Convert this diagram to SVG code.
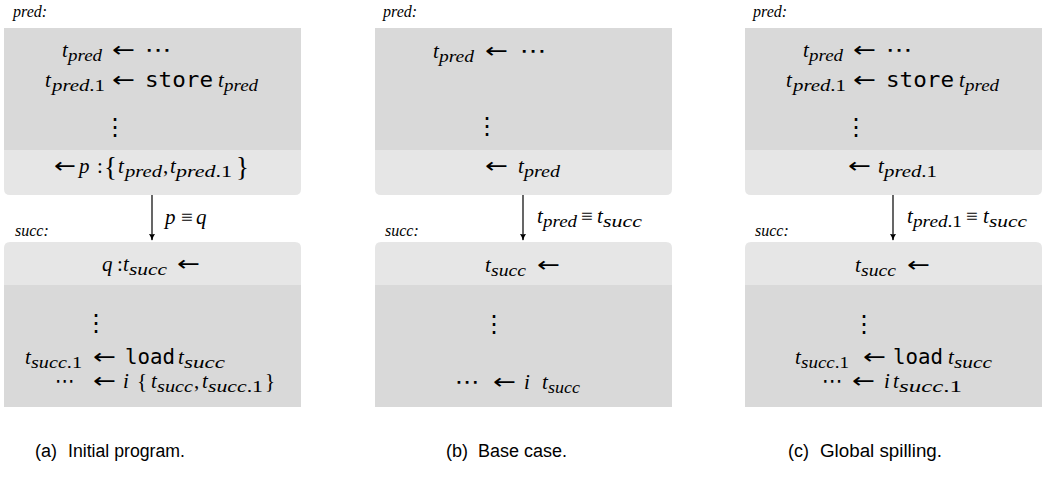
<svg xmlns="http://www.w3.org/2000/svg" width="1046" height="483" viewBox="0 0 1046 483">
<style>
.dk{fill:#d9d9d9}
.lt{fill:#e6e6e6}
.m{font-family:"Liberation Serif",serif;font-style:italic;font-size:21px;fill:#000}
.s{font-family:"Liberation Serif",serif;font-style:italic;font-size:16px}
.up{font-style:normal}
.n{font-family:"Liberation Serif","DejaVu Serif",serif;font-size:21px;fill:#000}
.ar{font-family:"DejaVu Sans",sans-serif;font-size:21px;fill:#000}
.br{font-family:"Liberation Serif",serif;font-size:27px;fill:#000}
.tt{font-family:"DejaVu Sans Mono",monospace;font-size:21px;fill:#000}
.lbl{font-family:"Liberation Serif",serif;font-style:italic;font-size:16px;fill:#000}
.cap{font-family:"Liberation Sans",sans-serif;font-size:18px;fill:#000}
.dots{font-family:"DejaVu Sans",sans-serif;font-size:21px;fill:#000}
.vd{font-family:"DejaVu Sans",sans-serif;font-size:24px;fill:#000;text-anchor:middle}
.edge{stroke:#000;stroke-width:1.2;fill:none}
</style>
<defs>
<marker id="ah" viewBox="0 0 10 10" refX="9" refY="5" markerWidth="7" markerHeight="7" markerUnits="userSpaceOnUse" orient="auto">
<path d="M0,0.5 Q5,4 10,5 Q5,6 0,9.5 Q2,5 0,0.5 Z" fill="#000"/>
</marker>
</defs>

<!-- ============ Panel A ============ -->
<g id="a-pred">
<text class="lbl" x="13" y="17">pred:</text>
<rect class="dk" x="4" y="28" width="297" height="122"/>
<path class="lt" d="M4,150 H301 V189 Q301,195 295,195 H10 Q4,195 4,189 Z"/>
<text class="m" x="62" y="57">t<tspan class="s" x="68" dy="4" textLength="34" lengthAdjust="spacingAndGlyphs">pred</tspan></text>
<text class="ar" x="112" y="57" textLength="23" lengthAdjust="spacingAndGlyphs">←</text>
<text class="dots" x="145" y="57" textLength="27" lengthAdjust="spacingAndGlyphs">⋯</text>
<text class="m" x="45" y="87">t<tspan class="s" x="52" dy="4" textLength="53" lengthAdjust="spacingAndGlyphs">pred<tspan class="up">.1</tspan></tspan></text>
<text class="ar" x="112" y="87" textLength="23" lengthAdjust="spacingAndGlyphs">←</text>
<text class="tt" x="145" y="87" textLength="68" lengthAdjust="spacingAndGlyphs">store</text>
<text class="m" x="218" y="87">t<tspan class="s" x="224" dy="4" textLength="34" lengthAdjust="spacingAndGlyphs">pred</tspan></text>
<text class="vd" x="115" y="135">⋮</text>
<text class="ar" x="54" y="173" textLength="22" lengthAdjust="spacingAndGlyphs">←</text>
<text class="m" x="79" y="173">p</text>
<text class="n" x="97" y="173">:</text>
<text class="br" x="104" y="176">{</text>
<text class="m" x="118" y="173">t<tspan class="s" x="125" dy="4" textLength="37" lengthAdjust="spacingAndGlyphs">pred</tspan></text>
<text class="n" x="163" y="173">,</text>
<text class="m" x="170" y="173">t<tspan class="s" x="176" dy="4" textLength="56" lengthAdjust="spacingAndGlyphs">pred<tspan class="up">.1</tspan></tspan></text>
<text class="br" x="236" y="176">}</text>
</g>

<g id="a-succ">
<text class="lbl" x="15" y="236">succ:</text>
<path class="lt" d="M4,285 V248 Q4,242 10,242 H295 Q301,242 301,248 V285 Z"/>
<rect class="dk" x="4" y="285" width="297" height="122"/>
<text class="m" x="102" y="271">q</text>
<text class="n" x="117" y="271">:</text>
<text class="m" x="123" y="271">t<tspan class="s" x="129" dy="4" textLength="38" lengthAdjust="spacingAndGlyphs">succ</tspan></text>
<text class="ar" x="177" y="271" textLength="23" lengthAdjust="spacingAndGlyphs">←</text>
<text class="vd" x="96" y="331">⋮</text>
<text class="m" x="25" y="364">t<tspan class="s" x="31" dy="3.5" textLength="51" lengthAdjust="spacingAndGlyphs">succ<tspan class="up">.1</tspan></tspan></text>
<text class="ar" x="93" y="364" textLength="23" lengthAdjust="spacingAndGlyphs">←</text>
<text class="tt" x="125" y="364" textLength="50" lengthAdjust="spacingAndGlyphs">load</text>
<text class="m" x="178" y="364">t<tspan class="s" x="184" dy="3.5" textLength="41" lengthAdjust="spacingAndGlyphs">succ</tspan></text>
<text class="dots" x="55" y="388" textLength="20" lengthAdjust="spacingAndGlyphs">⋯</text>
<text class="ar" x="93" y="388" textLength="23" lengthAdjust="spacingAndGlyphs">←</text>
<text class="m" x="123" y="388">i</text>
<text class="n" x="137" y="388">{</text>
<text class="m" x="151" y="388">t<tspan class="s" x="157" dy="4" textLength="36" lengthAdjust="spacingAndGlyphs">succ</tspan></text>
<text class="n" x="194" y="388">,</text>
<text class="m" x="202" y="388">t<tspan class="s" x="208" dy="4" textLength="55" lengthAdjust="spacingAndGlyphs">succ<tspan class="up">.1</tspan></tspan></text>
<text class="n" x="265" y="388">}</text>
</g>

<!-- ============ Panel B ============ -->
<g id="b-pred">
<text class="lbl" x="383" y="17">pred:</text>
<rect class="dk" x="375" y="28" width="297" height="122"/>
<path class="lt" d="M375,150 H672 V189 Q672,195 666,195 H381 Q375,195 375,189 Z"/>
<text class="m" x="433" y="58">t<tspan class="s" x="439" dy="4" textLength="35" lengthAdjust="spacingAndGlyphs">pred</tspan></text>
<text class="ar" x="485" y="58" textLength="23" lengthAdjust="spacingAndGlyphs">←</text>
<text class="dots" x="520" y="58" textLength="27" lengthAdjust="spacingAndGlyphs">⋯</text>
<text class="vd" x="487" y="134">⋮</text>
<text class="ar" x="485" y="173" textLength="23" lengthAdjust="spacingAndGlyphs">←</text>
<text class="m" x="518" y="173">t<tspan class="s" x="524" dy="4" textLength="36" lengthAdjust="spacingAndGlyphs">pred</tspan></text>
</g>

<g id="b-succ">
<text class="lbl" x="385" y="236">succ:</text>
<path class="lt" d="M375,285 V248 Q375,242 381,242 H666 Q672,242 672,248 V285 Z"/>
<rect class="dk" x="375" y="285" width="297" height="122"/>
<text class="m" x="485" y="272">t<tspan class="s" x="491" dy="4" textLength="35" lengthAdjust="spacingAndGlyphs">succ</tspan></text>
<text class="ar" x="537" y="272" textLength="23" lengthAdjust="spacingAndGlyphs">←</text>
<text class="vd" x="494" y="332">⋮</text>
<text class="dots" x="455" y="389" textLength="25" lengthAdjust="spacingAndGlyphs">⋯</text>
<text class="ar" x="493" y="389" textLength="23" lengthAdjust="spacingAndGlyphs">←</text>
<text class="m" x="524" y="389">i</text>
<text class="m" x="542" y="389">t<tspan class="s" x="548" dy="4" textLength="32" lengthAdjust="spacingAndGlyphs">succ</tspan></text>
</g>

<!-- ============ Panel C ============ -->
<g id="c-pred">
<text class="lbl" x="753" y="17">pred:</text>
<rect class="dk" x="745" y="28" width="297" height="122"/>
<path class="lt" d="M745,150 H1042 V189 Q1042,195 1036,195 H751 Q745,195 745,189 Z"/>
<text class="m" x="803" y="57">t<tspan class="s" x="809" dy="4" textLength="34" lengthAdjust="spacingAndGlyphs">pred</tspan></text>
<text class="ar" x="853" y="57" textLength="23" lengthAdjust="spacingAndGlyphs">←</text>
<text class="dots" x="886" y="57" textLength="27" lengthAdjust="spacingAndGlyphs">⋯</text>
<text class="m" x="786" y="87">t<tspan class="s" x="793" dy="4" textLength="53" lengthAdjust="spacingAndGlyphs">pred<tspan class="up">.1</tspan></tspan></text>
<text class="ar" x="853" y="87" textLength="23" lengthAdjust="spacingAndGlyphs">←</text>
<text class="tt" x="886" y="87" textLength="68" lengthAdjust="spacingAndGlyphs">store</text>
<text class="m" x="959" y="87">t<tspan class="s" x="965" dy="4" textLength="34" lengthAdjust="spacingAndGlyphs">pred</tspan></text>
<text class="vd" x="856" y="135">⋮</text>
<text class="ar" x="848" y="173" textLength="23" lengthAdjust="spacingAndGlyphs">←</text>
<text class="m" x="878" y="173">t<tspan class="s" x="884" dy="4" textLength="53" lengthAdjust="spacingAndGlyphs">pred<tspan class="up">.1</tspan></tspan></text>
</g>

<g id="c-succ">
<text class="lbl" x="755" y="236">succ:</text>
<path class="lt" d="M745,285 V248 Q745,242 751,242 H1036 Q1042,242 1042,248 V285 Z"/>
<rect class="dk" x="745" y="285" width="297" height="122"/>
<text class="m" x="855" y="272">t<tspan class="s" x="861" dy="4" textLength="35" lengthAdjust="spacingAndGlyphs">succ</tspan></text>
<text class="ar" x="907" y="272" textLength="23" lengthAdjust="spacingAndGlyphs">←</text>
<text class="vd" x="864" y="332">⋮</text>
<text class="m" x="795" y="364">t<tspan class="s" x="801" dy="3.5" textLength="48" lengthAdjust="spacingAndGlyphs">succ<tspan class="up">.1</tspan></tspan></text>
<text class="ar" x="863" y="364" textLength="23" lengthAdjust="spacingAndGlyphs">←</text>
<text class="tt" x="893" y="364" textLength="50" lengthAdjust="spacingAndGlyphs">load</text>
<text class="m" x="948" y="364">t<tspan class="s" x="954" dy="3.5" textLength="38" lengthAdjust="spacingAndGlyphs">succ</tspan></text>
<text class="dots" x="822" y="388" textLength="21" lengthAdjust="spacingAndGlyphs">⋯</text>
<text class="ar" x="852" y="388" textLength="23" lengthAdjust="spacingAndGlyphs">←</text>
<text class="m" x="884" y="388">i</text>
<text class="m" x="893" y="388">t<tspan class="s" x="899" dy="4" textLength="63" lengthAdjust="spacingAndGlyphs">succ<tspan class="up">.1</tspan></tspan></text>
</g>

<!-- ============ Connectors ============ -->
<g id="connectors">
<line class="edge" x1="152" y1="195" x2="152" y2="240" marker-end="url(#ah)"/>
<text class="m" x="165" y="224">p</text>
<text class="n" x="181" y="224">≡</text>
<text class="m" x="196" y="224">q</text>

<line class="edge" x1="523" y1="195" x2="523" y2="240" marker-end="url(#ah)"/>
<text class="m" x="537" y="223">t<tspan class="s" x="543" dy="4" textLength="34" lengthAdjust="spacingAndGlyphs">pred</tspan></text>
<text class="n" x="581" y="223">≡</text>
<text class="m" x="597" y="223">t<tspan class="s" x="603" dy="4" textLength="39" lengthAdjust="spacingAndGlyphs">succ</tspan></text>

<line class="edge" x1="893" y1="195" x2="893" y2="240" marker-end="url(#ah)"/>
<text class="m" x="907" y="223">t<tspan class="s" x="913" dy="4" textLength="49" lengthAdjust="spacingAndGlyphs">pred<tspan class="up">.1</tspan></tspan></text>
<text class="n" x="966" y="223">≡</text>
<text class="m" x="983" y="223">t<tspan class="s" x="989" dy="4" textLength="38" lengthAdjust="spacingAndGlyphs">succ</tspan></text>
</g>

<!-- ============ Captions ============ -->
<g id="captions">
<text class="cap" x="35" y="457" textLength="22" lengthAdjust="spacingAndGlyphs">(a)</text>
<text class="cap" x="68" y="457" textLength="117" lengthAdjust="spacingAndGlyphs">Initial program.</text>
<text class="cap" x="446" y="457" textLength="22" lengthAdjust="spacingAndGlyphs">(b)</text>
<text class="cap" x="478" y="457" textLength="89" lengthAdjust="spacingAndGlyphs">Base case.</text>
<text class="cap" x="788" y="457" textLength="21" lengthAdjust="spacingAndGlyphs">(c)</text>
<text class="cap" x="820" y="457" textLength="122" lengthAdjust="spacingAndGlyphs">Global spilling.</text>
</g>
</svg>
